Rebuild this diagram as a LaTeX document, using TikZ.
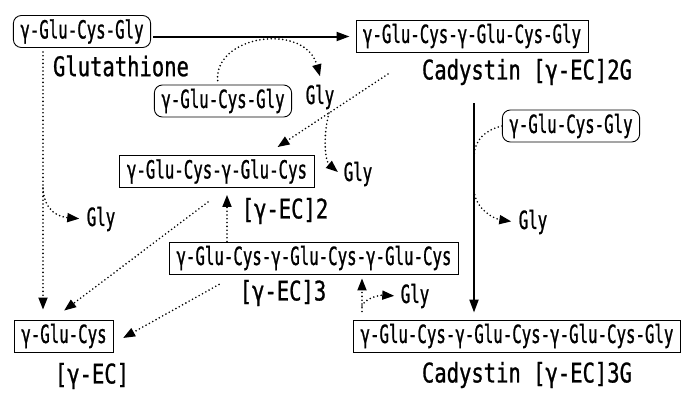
\documentclass[tikz,border=0pt]{standalone}
\usepackage{fontspec}
\newfontfamily\boxfont[FakeStretch=0.63,FakeBold=0.9]{DejaVu Sans Mono}
\newfontfamily\labfont[FakeStretch=0.76,FakeBold=0.9]{DejaVu Sans Mono}
\usetikzlibrary{arrows.meta}

\begin{document}
\begin{tikzpicture}[x=1pt, y=-1pt,
            pep/.style={rectangle, draw, line width=0.9pt, inner xsep=7pt, minimum height=32pt, font=\boxfont\fontsize{25}{25}\selectfont},
            gsh/.style={pep, rounded corners=8pt},
            caption/.style={inner sep=1pt, font=\labfont\fontsize{27}{27}\selectfont},
            gly/.style={font=\boxfont\fontsize{25}{25}\selectfont},
            arrow/.style={-{Triangle[length=13pt,width=9pt]}, line width=2pt},
            dotarrow/.style={-{Triangle[length=12pt,width=9pt]}, line width=1.8pt, dash pattern=on 0pt off 3.8pt, line cap=round},
            dotline/.style={line width=1.8pt, dash pattern=on 0pt off 3.8pt, line cap=round}
            ]
            \useasboundingbox (0,0) rectangle (682,392);

            % Glutathione and the peptides
            \node[gsh] (gsh) at (82,31.5) {γ-Glu-Cys-Gly};
            \node[caption] (glut) at (121,66) {Glutathione};
            \node[gsh] (gsh2) at (223,101) {γ-Glu-Cys-Gly};
            \node[gsh] (gsh3) at (571,126) {γ-Glu-Cys-Gly};
            \node[pep] (cad2) at (472,36) {γ-Glu-Cys-γ-Glu-Cys-Gly};
            \node[caption] (cad2lab) at (527,72) {Cadystin [γ-EC]2G};
            \node[pep] (ec2) at (217,171.5) {γ-Glu-Cys-γ-Glu-Cys};
            \node[caption] (ec2lab) at (285,211) {[γ-EC]2};
            \node[pep] (ec3) at (314,258) {γ-Glu-Cys-γ-Glu-Cys-γ-Glu-Cys};
            \node[caption] (ec3lab) at (283,293) {[γ-EC]3};
            \node[pep] (ec) at (64,336) {γ-Glu-Cys};
            \node[caption] (eclab) at (92,376) {[γ-EC]};
            \node[pep] (cad3) at (517,336) {γ-Glu-Cys-γ-Glu-Cys-γ-Glu-Cys-Gly};
            \node[caption] (cad3lab) at (527,375) {Cadystin [γ-EC]3G};

            % Released Gly
            \node[gly] (gly1) at (320,97) {Gly};
            \node[gly] (gly2) at (101,219) {Gly};
            \node[gly] (gly3) at (358,174) {Gly};
            \node[gly] (gly4) at (533,222) {Gly};
            \node[gly] (gly5) at (415,296) {Gly};

            % Branch points
            \coordinate (vtop) at (474,103);
            \coordinate (s4) at (388,74);
            \coordinate (b1) at (43,188);
            \coordinate (b2) at (329,113);
            \coordinate (b3) at (474,155);
            \coordinate (b4) at (474,191);
            \coordinate (b5) at (362,306);

            % Synthesis
            \draw[arrow, shorten >=6pt, shorten <=2pt] ([yshift=-5pt]gsh.east) -- ([yshift=-5pt]gsh.east -| cad2.west);
            \draw[arrow, shorten >=7pt] (vtop) -- (vtop |- cad3.north);
            \draw[dotarrow, shorten <=4pt] ([xshift=-5pt]gsh2.north) .. controls (214,35) and (305,22) .. ([yshift=5pt]gly1.north);
            \draw[dotline] (gsh3.west) .. controls (485,130) and (475,140) .. (b3);
            \draw[dotarrow, shorten >=4pt] (b4) .. controls (476,210) and (495,219) .. (gly4.west);

            % Breakdown
            \draw[dotarrow, shorten <=4pt, shorten >=10pt] ([xshift=-39pt]gsh.south) -- ([xshift=-21pt]ec.north);
            \draw[dotarrow, shorten >=4pt] (b1) .. controls (44,212) and (60,217) .. (gly2.west);
            \draw[dotarrow] (s4) -- ([xshift=-37pt,yshift=8pt]ec2.north east);
            \draw[dotarrow, shorten >=3pt] (b2) .. controls (322,140) and (326,162) .. (gly3.west);
            \draw[dotarrow] ([xshift=-9pt,yshift=-14pt]ec2.south) -- ([xshift=-50pt,yshift=9pt]ec.north east);
            \draw[dotarrow] ([xshift=50pt,yshift=-10pt]ec3.south west) -- ([xshift=9pt,yshift=-2pt]ec.east);
            \draw[dotarrow, shorten >=7pt] ([xshift=10pt]ec2.south |- ec3.north) -- ([xshift=10pt]ec2.south);
            \draw[dotarrow, shorten <=8pt, shorten >=4pt] ([xshift=48pt]ec3.south |- cad3.north) -- ([xshift=48pt]ec3.south);
            \draw[dotarrow, shorten >=3pt] (b5) .. controls (365,298) and (380,295) .. (gly5.west);

        \end{tikzpicture}
\end{document}
